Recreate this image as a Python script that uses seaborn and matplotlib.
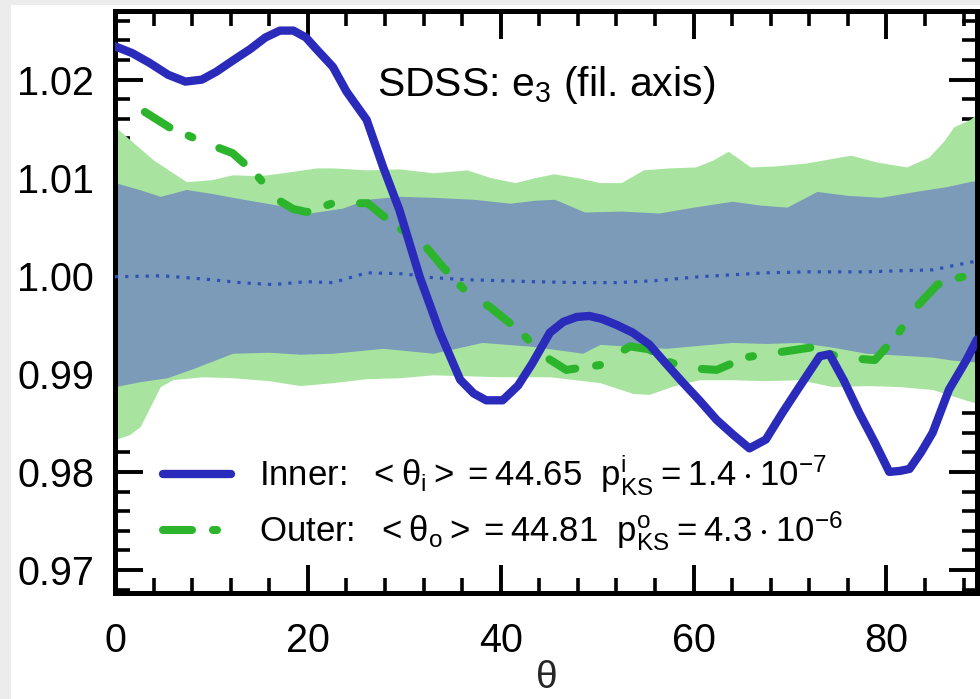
import numpy as np
import pandas as pd
import matplotlib
matplotlib.use("Agg")
import matplotlib.pyplot as plt
from matplotlib.patches import Rectangle
from matplotlib.ticker import MultipleLocator
import seaborn as sns

# ---------------- data ----------------
inner_theta = [0, 1.8, 3.6, 5.5, 7.3, 9, 10.5, 12.3, 14, 15.6, 17.1, 18.5, 19.8, 20.9, 22.6,
               24.0, 26.1, 27.8, 29.5, 31.6, 33.7, 35.8, 37.2, 38.5, 40.2, 41.8, 43.3, 45.1,
               46.5, 47.9, 49.2, 50.5, 52, 53.7, 55.4, 57, 58.9, 60.7, 62.4, 64.1, 65.8, 67.5,
               69.2, 71.0, 73.1, 74.1, 75.6, 77.2, 78.8, 80.3, 81.4, 82.4, 83.6, 84.8, 86.5,
               88.3, 89.4]
inner_val = [1.0234, 1.0227, 1.0217, 1.0205, 1.0198, 1.0200, 1.0208, 1.0220, 1.0231, 1.0243,
             1.0250, 1.0250, 1.0243, 1.0231, 1.0213, 1.0188, 1.0159, 1.0111, 1.0067, 0.9999,
             0.9942, 0.9894, 0.9880, 0.9873, 0.9873, 0.9888, 0.9911, 0.9942, 0.9953, 0.9958,
             0.9959, 0.9956, 0.9950, 0.9942, 0.9930, 0.9912, 0.9891, 0.9872, 0.9853, 0.9838,
             0.9824, 0.9833, 0.9860, 0.9887, 0.9918, 0.9920, 0.9893, 0.9860, 0.9830, 0.9800,
             0.9801, 0.9803, 0.9820, 0.9840, 0.9884, 0.9914, 0.9935]

outer_theta = [3.1, 5.7, 9.0, 12.2, 14.5, 16.8, 18.5, 19.9, 22.6, 26.2, 29.2, 31.6, 34.0, 36.5,
               38.9, 41.8, 44.7, 46.8, 50.3, 53.4, 55.4, 57.5, 59.3, 62.4, 65.5, 68.9, 72.3,
               75.1, 78.8, 81.0, 83.1, 85.3, 87.5, 89.4]
outer_val = [1.0167, 1.0151, 1.0137, 1.0125, 1.0105, 1.0078, 1.0068, 1.0065, 1.0074, 1.0074,
             1.0050, 1.0037, 1.0009, 0.9983, 0.9968, 0.9945, 0.9917, 0.9904, 0.9909, 0.9928,
             0.9925, 0.9912, 0.9906, 0.9904, 0.9917, 0.9922, 0.9927, 0.9917, 0.9914, 0.9938,
             0.9968, 0.9991, 0.9998, 1.0002]

green_up_theta = [0, 2, 4, 7.4, 10, 12.2, 15, 18.1, 20.9, 22.6, 26.1, 29.5, 33, 36.5, 39, 41.5,
                  43.5, 45.5, 48, 50.3, 52.5, 54.8, 57.5, 60.2, 62, 63.6, 65.9, 68.5, 71.7, 74,
                  76.3, 79, 82.1, 84.4, 86, 87.0, 88.6, 89.4]
green_up_val = [1.0152, 1.0135, 1.0118, 1.0096, 1.0098, 1.0103, 1.0102, 1.0106, 1.0110, 1.0110,
                1.0108, 1.0109, 1.0105, 1.0108, 1.0100, 1.0095, 1.0100, 1.0104, 1.0100, 1.0095,
                1.0095, 1.0108, 1.0110, 1.0111, 1.0118, 1.0127, 1.0111, 1.0112, 1.0115, 1.0119,
                1.0123, 1.0116, 1.0111, 1.0121, 1.0138, 1.0152, 1.0159, 1.0165]

green_lo_theta = [0, 1.5, 2.6, 4.7, 6, 9, 12.2, 16, 19.2, 22.6, 26, 29.5, 33, 36.5, 39.9, 45.1,
                  50.3, 53.7, 55.4, 58, 60.6, 64, 67.5, 71, 74.4, 78, 81.3, 84.8, 88.3, 89.4]
green_lo_val = [0.9833, 0.9838, 0.9846, 0.9887, 0.9894, 0.9897, 0.9896, 0.9893, 0.9888, 0.9891,
                0.9895, 0.9896, 0.9899, 0.9898, 0.9897, 0.9897, 0.9891, 0.9880, 0.9879, 0.9888,
                0.9894, 0.9894, 0.9893, 0.9894, 0.9887, 0.9888, 0.9887, 0.9884, 0.9873, 0.9870]

blue_up_theta = [0, 2.5, 4.7, 7.4, 10, 12.2, 15.7, 18.1, 20.2, 23.6, 26.1, 29.5, 33, 37.2, 41.0,
                 43.5, 45.6, 48.7, 52.5, 56.4, 60, 64.0, 67, 69.7, 72.8, 76, 79.4, 83, 86.3,
                 88.6, 89.4]
blue_up_val = [1.0095, 1.0088, 1.0081, 1.0088, 1.0084, 1.0080, 1.0074, 1.0070, 1.0064, 1.0069,
               1.0078, 1.0081, 1.0080, 1.0078, 1.0074, 1.0077, 1.0078, 1.0065, 1.0066, 1.0064,
               1.0070, 1.0076, 1.0072, 1.0070, 1.0086, 1.0082, 1.0080, 1.0086, 1.0091, 1.0096,
               1.0097]

blue_lo_theta = [0, 2.6, 5.4, 8, 12.2, 16, 19.2, 22.6, 27.8, 33, 38.1, 43.3, 48.5, 50.3, 53.7,
                 57.2, 60.5, 64, 67.5, 71, 74.5, 77.9, 81.5, 84.8, 86.8, 89.4]
blue_lo_val = [0.9887, 0.9892, 0.9896, 0.9905, 0.9921, 0.9922, 0.9920, 0.9921, 0.9926, 0.9921,
               0.9932, 0.9928, 0.9921, 0.9930, 0.9928, 0.9926, 0.9929, 0.9932, 0.9931, 0.9932,
               0.9927, 0.9921, 0.9919, 0.9917, 0.9914, 0.9912]

mean_theta = [0, 5, 10, 13, 16.4, 19.9, 22.6, 26.1, 30, 33, 36.5, 40, 43.3, 48, 52, 56, 60.6,
              64, 67.5, 72, 77.9, 81, 84.8, 88.3, 89.4]
mean_val = [0.9999, 1.0000, 0.9996, 0.9993, 0.9991, 0.9994, 0.9993, 1.0003, 1.0002, 0.9998,
            0.9996, 0.9995, 0.9994, 0.9993, 0.9993, 0.9995, 0.9999, 1.0001, 1.0003, 1.0004,
            1.0004, 1.0005, 1.0006, 1.0013, 1.0015]

x_ticks = [0, 20, 40, 60, 80]
y_ticks = [0.97, 0.98, 0.99, 1.00, 1.01, 1.02]
y_tick_labels = ["0.97", "0.98", "0.99", "1.00", "1.01", "1.02"]

title_text = r"SDSS: e$_3$ (fil. axis)"
inner_label = r"Inner:  $<\theta_i>=44.65$  $p^{i}_{KS}=1.4\cdot10^{-7}$"
outer_label = r"Outer:  $<\theta_o>=44.81$  $p^{o}_{KS}=4.3\cdot10^{-6}$"

# ---------------- style ----------------
sns.set_style("ticks")
plt.rcParams["font.family"] = ["Liberation Sans", "DejaVu Sans"]
plt.rcParams["mathtext.default"] = "regular"

C_GREEN_BAND = "#a8e4a0"
C_BLUE_BAND = "#7b9bb9"
C_INNER = "#2a2abb"
C_OUTER = "#2cb52c"

fig = plt.figure(figsize=(9.8, 6.99), dpi=100)
fig.patch.set_facecolor("white")
fig.patches.append(Rectangle((0, 0), 11 / 980, 1, transform=fig.transFigure,
                             facecolor="#ececec", edgecolor="none", zorder=-10))
fig.patches.append(Rectangle((0, 1 - 5 / 699), 1, 5 / 699, transform=fig.transFigure,
                             facecolor="#ececec", edgecolor="none", zorder=-10))

ax = fig.add_axes([115 / 980, 1 - 593 / 699, (977 - 115) / 980, (593 - 11) / 699])

# bands
gx = np.union1d(green_up_theta, green_lo_theta)
ax.fill_between(gx, np.interp(gx, green_lo_theta, green_lo_val),
                np.interp(gx, green_up_theta, green_up_val),
                color=C_GREEN_BAND, linewidth=0, zorder=1)
bx = np.union1d(blue_up_theta, blue_lo_theta)
ax.fill_between(bx, np.interp(bx, blue_lo_theta, blue_lo_val),
                np.interp(bx, blue_up_theta, blue_up_val),
                color=C_BLUE_BAND, linewidth=0, zorder=2)

# mean dotted line
df_mean = pd.DataFrame({"theta": mean_theta, "val": mean_val})
sns.lineplot(data=df_mean, x="theta", y="val", ax=ax, color="#2f50b5",
             linewidth=2.3, linestyle=(0, (1, 2.2)), zorder=3, sort=False)

# outer and inner
df_outer = pd.DataFrame({"theta": outer_theta, "val": outer_val})
sns.lineplot(data=df_outer, x="theta", y="val", ax=ax, color=C_OUTER,
             linewidth=5.8, zorder=4, sort=False, label=outer_label)
outer_line = ax.lines[-1]
outer_line.set_dashes((3.6, 2.6, 0.5, 3.6))
outer_line.set_dash_capstyle("round")

df_inner = pd.DataFrame({"theta": inner_theta, "val": inner_val})
sns.lineplot(data=df_inner, x="theta", y="val", ax=ax, color=C_INNER,
             linewidth=6.0, zorder=5, sort=False, label=inner_label)
inner_line = ax.lines[-1]
inner_line.set_solid_joinstyle("round")

# axes
ax.set_xlim(0, 89.4)
ax.set_ylim(0.96765, 1.0270)
ax.set_xticks(x_ticks)
ax.set_yticks(y_ticks)
ax.set_yticklabels(y_tick_labels)
ax.xaxis.set_minor_locator(MultipleLocator(4))
ax.yaxis.set_minor_locator(MultipleLocator(0.002))
ax.tick_params(which="both", direction="in", top=True, right=True, colors="black")
ax.tick_params(which="major", length=20, width=2.8, labelsize=28.5, pad=15)
ax.tick_params(which="minor", length=11, width=2.6)
ax.tick_params(axis="x", which="major", pad=21)
for s in ax.spines.values():
    s.set_linewidth(3.6)
    s.set_color("black")
ax.set_xlabel(r"$\theta$", fontsize=28, labelpad=0)
ax.set_ylabel("")

ax.text(0.304, 0.872, title_text, transform=ax.transAxes, fontsize=29.5,
        ha="left", va="center", color="black", zorder=10)

handles, labels = ax.get_legend_handles_labels()
order = [labels.index(inner_label), labels.index(outer_label)]
leg = ax.legend([handles[i] for i in order], [labels[i] for i in order],
                loc="lower left", bbox_to_anchor=(0.056, 0.068), frameon=False,
                fontsize=25, handlelength=1.95, handletextpad=0.8, labelspacing=0.35,
                borderpad=0, borderaxespad=0)
for t in leg.get_texts():
    t.set_color("black")

fig.savefig("out.png", dpi=100)
